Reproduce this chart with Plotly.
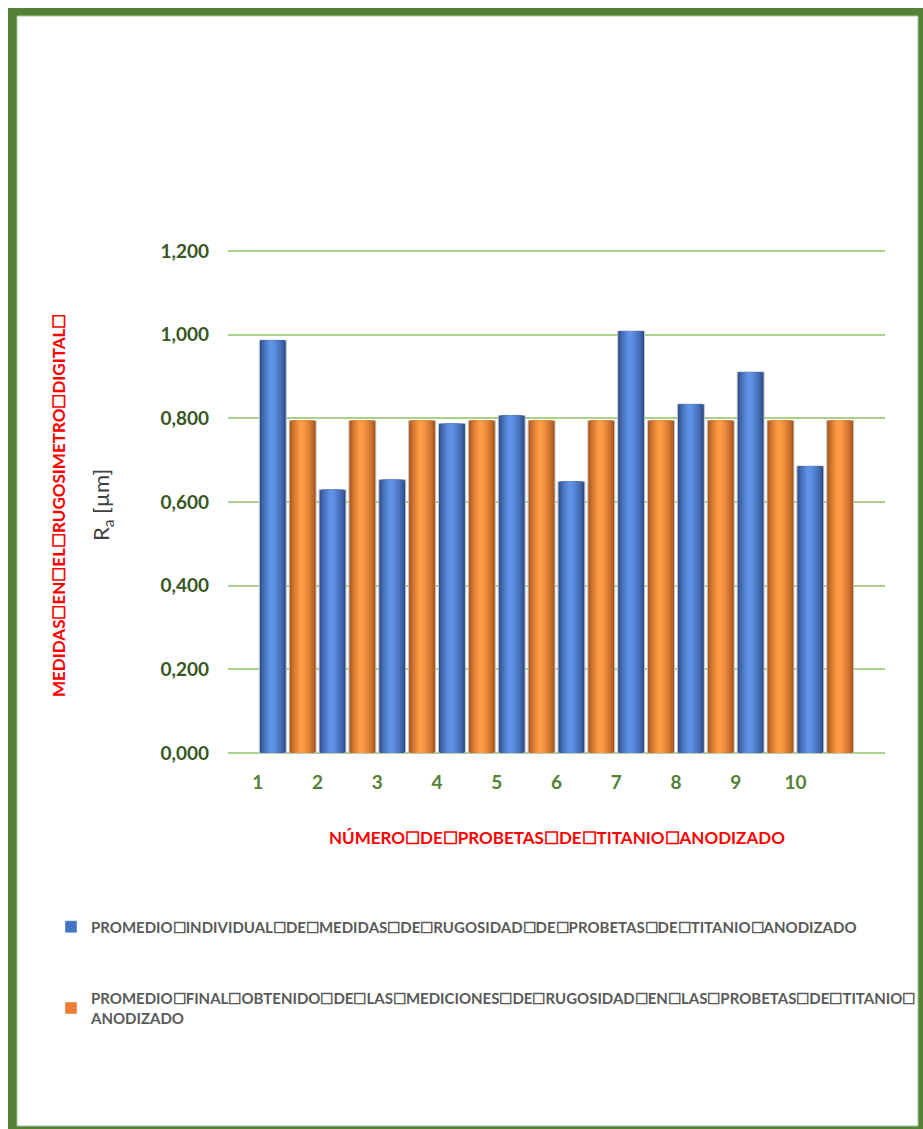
import plotly.graph_objects as go

# ---- data -------------------------------------------------------------
categories = ["1", "2", "3", "4", "5", "6", "7", "8", "9", "10"]
promedio_individual = [0.987, 0.629, 0.653, 0.787, 0.807, 0.649, 1.009, 0.834, 0.911, 0.686]
promedio_final = [0.795, 0.795, 0.795, 0.795, 0.795, 0.795, 0.795, 0.795, 0.795, 0.795]
y_ticks = [0.0, 0.2, 0.4, 0.6, 0.8, 1.0, 1.2]

B = "\u2610"  # placeholder glyph shown between words
serie_individual = B.join(["PROMEDIO", "INDIVIDUAL", "DE", "MEDIDAS", "DE", "RUGOSIDAD",
                           "DE", "PROBETAS", "DE", "TITANIO", "ANODIZADO"])
serie_final = B.join(["PROMEDIO", "FINAL", "OBTENIDO", "DE", "LAS", "MEDICIONES", "DE",
                      "RUGOSIDAD", "EN", "LAS", "PROBETAS", "DE", "TITANIO", ""]) + "<br>ANODIZADO"
titulo_x = B.join(["NÚMERO", "DE", "PROBETAS", "DE", "TITANIO", "ANODIZADO"])
titulo_y = B.join(["MEDIDAS", "EN", "EL", "RUGOSIMETRO", "DIGITAL", ""])
unidad_y = "R<sub>a</sub> [µm]"

# ---- layout geometry (pixels) -----------------------------------------
W, H = 923, 1129
L, R = 228, 885
Y_TOP_TICK, Y_ZERO = 251, 753          # pixel rows of 1,200 and 0,000
PAD = 4                                # keep edge gridlines inside the plot
T, BOT = Y_TOP_TICK - PAD, Y_ZERO + PAD
PW, PH = R - L, BOT - T
UNIT = y_ticks[-1] / (Y_ZERO - Y_TOP_TICK)   # data units per pixel
Y_RANGE = [-PAD * UNIT, y_ticks[-1] + PAD * UNIT]


def px(xp):
    return (xp - L) / PW


def py(yp):
    return (BOT - yp) / PH


FONT = "Lato"
GREEN_DARK = "#375623"
GREEN = "#538135"
RED = "#FF0000"


def hex2rgb(h):
    h = h.lstrip("#")
    return tuple(int(h[i:i + 2], 16) for i in (0, 2, 4))


def mix(c1, c2, t):
    a, b = hex2rgb(c1), hex2rgb(c2)
    return "rgb(%d,%d,%d)" % tuple(round(a[i] + (b[i] - a[i]) * t) for i in range(3))


def shaded_bars(fig, xs, ys, edge, mid):
    """Cylinder-like bars: stacked overlay bars getting narrower and lighter."""
    w = 0.45
    fracs = [1.0, 0.88, 0.76, 0.64, 0.52, 0.40, 0.28, 0.16]
    n = len(fracs)
    for k, f in enumerate(fracs):
        t = (k / (n - 1)) ** 0.7
        fig.add_trace(go.Bar(
            x=xs, y=ys,
            width=[f * w] * len(xs),
            offset=[w * (-0.05 - 0.45 * f)] * len(xs),
            marker=dict(color=mix(edge, mid, t),
                        line=dict(color="#C8C8C8" if k == 0 else "rgba(0,0,0,0)",
                                  width=1 if k == 0 else 0)),
            showlegend=False, hoverinfo="skip",
        ))


fig = go.Figure()

pos = list(range(1, len(categories) + 1))
x_ind = [p + 0.25 for p in pos]
x_fin = [p + 0.75 for p in pos]

shaded_bars(fig, x_ind, promedio_individual, "#2B4A86", "#5F92E6")
shaded_bars(fig, x_fin, promedio_final, "#A5521A", "#FF9B45")

# legend entries
fig.add_trace(go.Bar(x=[None], y=[None], name=serie_individual,
                     marker_color="#4472C4", legend="legend"))
fig.add_trace(go.Bar(x=[None], y=[None], name=serie_final,
                     marker_color="#ED7D31", legend="legend2"))

legend_font = dict(family=FONT, size=15, color="#595959", weight="bold")

# outer frame
shapes = [
    dict(type="path", xref="paper", yref="paper", layer="below",
         path="M {x0},{y1} L {x0},{y0} L {x1},{y0} L {x1},{y1} Z".format(
             x0=px(8), x1=px(923), y0=py(1129), y1=py(8)),
         fillcolor="#538135", line=dict(width=0)),
    dict(type="rect", xref="paper", yref="paper", layer="below",
         x0=px(17), x1=px(918), y0=py(1126), y1=py(16),
         fillcolor="white", line=dict(color="#A9C79A", width=1)),
]

annotations = [
    dict(text=titulo_x, xref="paper", yref="paper", x=0.5, y=py(838),
         showarrow=False, xanchor="center", yanchor="middle",
         font=dict(family=FONT, size=17, color=RED, weight="bold")),
    dict(text=titulo_y, xref="paper", yref="paper", x=px(58), y=py(506),
         showarrow=False, textangle=-90, xanchor="center", yanchor="middle",
         font=dict(family=FONT, size=17, color=RED, weight="bold")),
    dict(text=unidad_y, xref="paper", yref="paper", x=px(102), y=py(505),
         showarrow=False, textangle=-90, xanchor="center", yanchor="middle",
         font=dict(family=FONT, size=22, color="#404040")),
]

fig.update_layout(
    width=W, height=H,
    margin=dict(l=L, r=W - R, t=T, b=H - BOT, autoexpand=False),
    paper_bgcolor="white", plot_bgcolor="white",
    barmode="overlay",
    separators=",.",
    shapes=shapes,
    annotations=annotations,
    legend=dict(x=px(51), y=py(927), xanchor="left", yanchor="middle",
                font=legend_font, bgcolor="rgba(0,0,0,0)"),
    legend2=dict(x=px(51), y=py(982), xanchor="left", yanchor="top",
                 font=legend_font, bgcolor="rgba(0,0,0,0)"),
    xaxis=dict(range=[0.5, 11.5], tickvals=pos, ticktext=categories,
               showgrid=False, zeroline=False, showline=False,
               ticks="", ticklabelstandoff=12,
               tickfont=dict(family=FONT, size=19, color=GREEN, weight="bold")),
    yaxis=dict(range=Y_RANGE, tickvals=y_ticks, tickformat=".3f",
               showgrid=True, gridcolor="#A9D18E", gridwidth=2,
               zeroline=False, showline=False, ticks="", ticklabelstandoff=18,
               tickfont=dict(family=FONT, size=19, color=GREEN_DARK, weight="bold")),
)

fig.write_html("out.html")
